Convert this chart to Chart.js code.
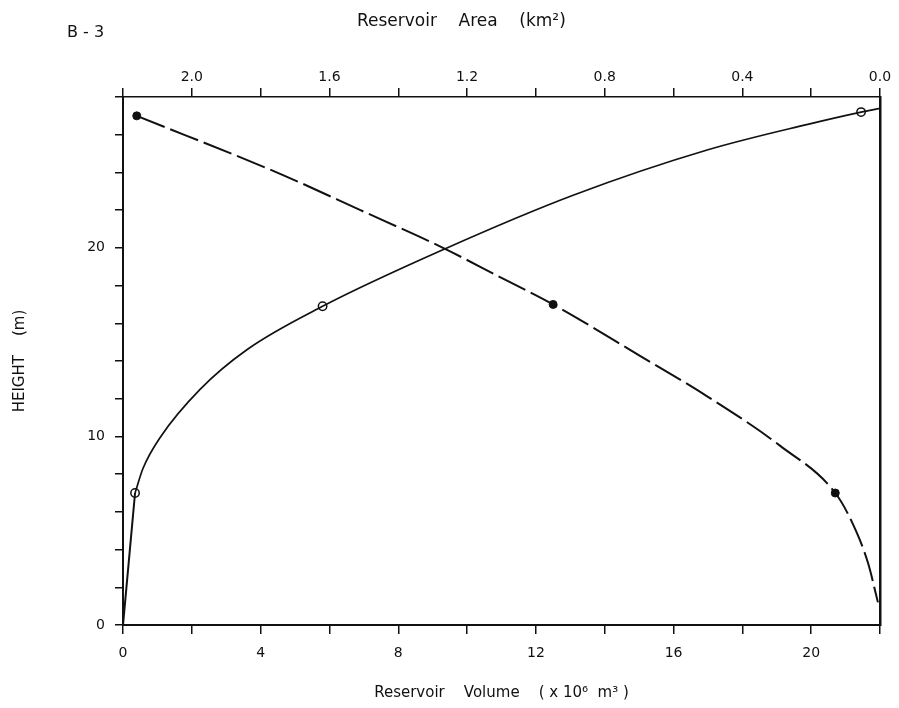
<!DOCTYPE html>
<html>
<head>
<meta charset="utf-8">
<script src="https://cdn.jsdelivr.net/npm/chart.js@4/dist/chart.umd.min.js"></script>
<style>
  html, body { margin: 0; padding: 0; background: #ffffff; }
  #wrap { width: 899px; height: 708px; position: relative; }
</style>
</head>
<body>
<div id="wrap"><canvas id="c" width="899" height="708"></canvas></div>
<script>
// ---- Data ----
// Height–volume curve (solid, bottom axis)
const volumeValues = [0, 0.35, 0.58, 1.1, 2.24, 3.6, 5.8, 9.3, 13.1, 17.0, 19.9, 21.45, 22.0];
const volumeHeights = [0, 7.0, 8.3, 10.0, 12.5, 14.6, 16.9, 19.9, 22.8, 25.2, 26.55, 27.2, 27.4];
// Measured points on the volume curve (open circles)
const volumeMarkerValues = [0.35, 5.8, 21.45];
const volumeMarkerHeights = [7.0, 16.9, 27.2];

// Height–area curve (dashed, top axis, reversed)
const areaValues = [2.16, 1.74, 1.51, 1.27, 1.11, 0.95, 0.70, 0.50, 0.29, 0.13, 0.08, 0.035, 0.006];
const areaHeights = [27.0, 23.9, 22.0, 20.0, 18.5, 17.0, 14.3, 12.1, 9.5, 7.0, 5.4, 3.3, 1.2];
// Measured points on the area curve (filled dots)
const areaMarkerValues = [2.16, 0.95, 0.13];
const areaMarkerHeights = [27.0, 17.0, 7.0];

// Tick labels
const volumeTickLabels = [0, 4, 8, 12, 16, 20];
const areaTickLabels = ['2.0', '1.6', '1.2', '0.8', '0.4', '0.0'];
const heightTickLabels = [0, 10, 20];

const pts = (xs, ys) => xs.map((x, i) => ({ x: x, y: ys[i] }));

const INK = '#111111';
const FONT = '"DejaVu Sans", "Liberation Sans", sans-serif';

const textPlugin = {
  id: 'extraText',
  afterDraw(chart) {
    const { ctx, chartArea } = chart;
    ctx.save();
    ctx.fillStyle = INK;
    ctx.textBaseline = 'middle';
    ctx.textAlign = 'left';
    ctx.font = '16px ' + FONT;
    ctx.fillText('B - 3', 67, 33);
    ctx.textAlign = 'center';
    ctx.font = '17px ' + FONT;
    const cx = chartArea.left + (chartArea.right - chartArea.left) * 0.447;
    ctx.fillText('Reservoir    Area    (km\u00B2)', cx, 22);
    ctx.restore();
  }
};

new Chart(document.getElementById('c'), {
  type: 'scatter',
  data: {
    datasets: [
      {
        label: 'Volume (lower segment)',
        data: pts(volumeValues.slice(0, 2), volumeHeights.slice(0, 2)),
        xAxisID: 'x', yAxisID: 'y',
        showLine: true,
        borderColor: INK, borderWidth: 2,
        pointRadius: 0
      },
      {
        label: 'Volume',
        data: pts(volumeValues.slice(1), volumeHeights.slice(1)),
        xAxisID: 'x', yAxisID: 'y',
        showLine: true,
        borderColor: INK, borderWidth: 1.7,
        pointRadius: 0,
        cubicInterpolationMode: 'monotone'
      },
      {
        label: 'Volume points',
        data: pts(volumeMarkerValues, volumeMarkerHeights),
        xAxisID: 'x', yAxisID: 'y',
        showLine: false,
        pointRadius: 4.2, pointBorderWidth: 1.5,
        pointBackgroundColor: '#ffffff', pointBorderColor: INK
      },
      {
        label: 'Area',
        data: pts(areaValues, areaHeights),
        xAxisID: 'x2', yAxisID: 'y',
        showLine: true,
        borderColor: INK, borderWidth: 2,
        borderDash: [30, 6],
        pointRadius: 0,
        cubicInterpolationMode: 'monotone'
      },
      {
        label: 'Area points',
        data: pts(areaMarkerValues, areaMarkerHeights),
        xAxisID: 'x2', yAxisID: 'y',
        showLine: false,
        pointRadius: 4, pointBorderWidth: 1,
        pointBackgroundColor: INK, pointBorderColor: INK
      }
    ]
  },
  options: {
    responsive: false,
    animation: false,
    layout: { padding: 0 },
    plugins: { legend: { display: false }, tooltip: { enabled: false }, title: { display: false } },
    scales: {
      x: {
        type: 'linear', position: 'bottom', min: 0, max: 22,
        afterFit(s) { s.height = 83; },
        border: { display: true, color: INK, width: 2 },
        grid: { drawOnChartArea: false, drawTicks: true, tickLength: 9, color: INK, lineWidth: 1.5 },
        ticks: {
          stepSize: 2, padding: 11, color: INK, maxRotation: 0, autoSkip: false,
          font: { family: FONT, size: 14 },
          callback: (v) => volumeTickLabels.includes(v) ? String(v) : ''
        },
        title: {
          display: true, text: 'Reservoir    Volume    ( x 10\u2076  m\u00B3 )',
          color: INK, font: { family: FONT, size: 15 }, padding: { top: 0, bottom: 6 }
        }
      },
      x2: {
        type: 'linear', position: 'top', min: 0, max: 2.2, reverse: true,
        afterFit(s) { s.height = 97; },
        border: { display: true, color: INK, width: 1.5 },
        grid: { drawOnChartArea: false, drawTicks: true, tickLength: 9, color: INK, lineWidth: 1.5 },
        ticks: {
          stepSize: 0.2, padding: 2, color: INK, maxRotation: 0, autoSkip: false,
          font: { family: FONT, size: 14 },
          callback: (v) => {
            const lbl = v.toFixed(1);
            return areaTickLabels.includes(lbl) ? lbl : '';
          }
        }
      },
      y: {
        type: 'linear', position: 'left', min: 0, max: 28,
        afterFit(s) { s.width = 123; },
        border: { display: true, color: INK, width: 2 },
        grid: { drawOnChartArea: false, drawTicks: true, tickLength: 8, color: INK, lineWidth: 1.5 },
        ticks: {
          stepSize: 2, padding: 10, color: INK, autoSkip: false,
          font: { family: FONT, size: 14 },
          callback: (v) => heightTickLabels.includes(v) ? String(v) : ''
        },
        title: {
          display: true, text: 'HEIGHT    (m)', color: INK,
          font: { family: FONT, size: 15 }, padding: { top: 11, bottom: 0 }
        }
      },
      y2: {
        type: 'linear', position: 'right', min: 0, max: 28,
        afterFit(s) { s.width = 19; },
        border: { display: true, color: INK, width: 2.5 },
        grid: { display: false, drawOnChartArea: false },
        ticks: { display: false }
      }
    }
  },
  plugins: [textPlugin]
});
</script>
</body>
</html>
